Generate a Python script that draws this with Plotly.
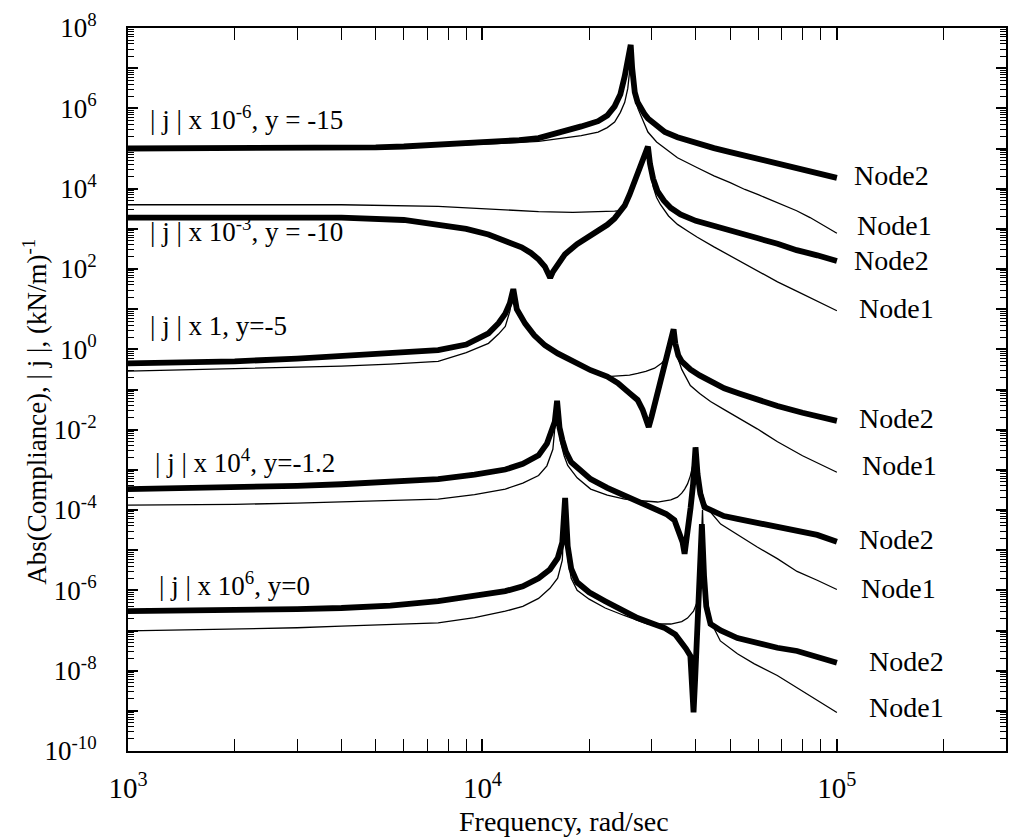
import math
import plotly.graph_objects as go

# ---- frequency response data (frequency in rad/sec, |compliance| scaled per group) ----
# Group 1: |j| x 1e-6, y = -15
g1_node2_f = [1000, 2000, 3000, 4000, 5000, 6000, 7500, 9000, 11000, 12700, 14400, 15700, 17100,
              19000, 21200, 22500, 23600, 24500, 25200, 25700, 26000, 26200, 26450, 26700, 26900,
              27400, 28000, 28700, 29300, 31000, 32700, 35500, 38000, 40400, 45000, 50000, 60000,
              68000, 77000, 88000, 100000]
g1_node2_v = [1.0e5, 1.0e5, 1.01e5, 1.02e5, 1.07e5, 1.12e5, 1.23e5, 1.32e5, 1.45e5, 1.62e5, 1.82e5,
              2.19e5, 2.82e5, 3.55e5, 4.79e5, 6.61e5, 1.12e6, 2.24e6, 6.31e6, 1.41e7, 2.51e7, 3.8e7,
              1.0e7, 4.47e6, 2.51e6, 1.41e6, 9.55e5, 7.08e5, 5.62e5, 3.55e5, 2.57e5, 1.91e5, 1.58e5,
              1.35e5, 1.02e5, 8.13e4, 5.5e4, 4.37e4, 3.31e4, 2.51e4, 1.86e4]
g1_node1_f = [1000, 2000, 4000, 7500, 11000, 14400, 17100, 19000, 21200, 22500, 23600, 24500,
              25200, 25700, 26000, 26200, 26500, 26900, 27500, 28300, 29300, 31000, 32700, 35500,
              40400, 45000, 50000, 55000, 60000, 68000, 77000, 84000, 100000]
g1_node1_v = [9.77e4, 9.77e4, 1.0e5, 1.17e5, 1.32e5, 1.51e5, 1.82e5, 2.09e5, 2.57e5, 3.31e5, 4.57e5,
              7.94e5, 1.41e6, 3.09e6, 7.94e6, 2.82e7, 3.98e6, 1.78e6, 9.55e5, 5.01e5, 2.57e5, 1.45e5,
              1.02e5, 5.89e4, 3.31e4, 2.09e4, 1.41e4, 9.55e3, 7.08e3, 4.47e3, 2.82e3, 1.91e3, 7.76e2]

# Group 2: |j| x 1e-3, y = -10
g2_node2_f = [1000, 2000, 4000, 6000, 7500, 9000, 10400, 11500, 12900, 13700, 14400, 15000, 15300,
              15530, 15800, 16300, 17100, 18500, 20000, 21200, 22500, 23600, 24500, 25200, 26000,
              26800, 27600, 28300, 28900, 29300, 29700, 30300, 31200, 32500, 34000, 36200, 40000,
              45100, 52000, 59600, 68000, 77000, 88000, 100000]
g2_node2_v = [1.91e3, 1.91e3, 1.91e3, 1.66e3, 1.29e3, 1.0e3, 7.24e2, 5.25e2, 3.47e2, 2.51e2, 1.74e2,
              1.15e2, 8.51e1, 6.03e1, 8.51e1, 1.26e2, 2.34e2, 4.17e2, 6.61e2, 8.71e2, 1.26e3, 1.82e3,
              2.63e3, 3.8e3, 7.08e3, 1.41e4, 2.82e4, 5.25e4, 8.91e4, 1.12e5, 4.17e4, 1.78e4, 8.51e3,
              5.01e3, 3.31e3, 2.29e3, 1.58e3, 1.15e3, 8.13e2, 5.89e2, 4.27e2, 2.95e2, 2.19e2, 1.58e2]
g2_node1_f = [1000, 2000, 4000, 7500, 11000, 14400, 18000, 22000, 23600, 24500, 25200, 26000,
              26800, 27600, 28300, 28900, 29300, 29700, 30300, 31000, 31800, 33500, 35500, 38000,
              40400, 45000, 50000, 55000, 60000, 68000, 77000, 88000, 100000]
g2_node1_v = [3.98e3, 3.98e3, 3.98e3, 3.63e3, 3.02e3, 2.69e3, 2.57e3, 2.63e3, 2.75e3, 2.82e3, 3.8e3,
              7.08e3, 1.41e4, 2.82e4, 5.25e4, 8.91e4, 1.12e5, 3.16e4, 1.12e4, 6.03e3, 3.98e3, 2.09e3,
              1.29e3, 8.71e2, 6.17e2, 3.55e2, 2.14e2, 1.32e2, 8.51e1, 4.79e1, 2.82e1, 1.58e1, 9.12]

# Group 3: |j| x 1, y = -5
g3_node2_f = [1000, 2000, 3000, 4000, 5500, 7500, 9000, 10400, 11100, 11600, 11950, 12220, 12500,
              12900, 13200, 14000, 15000, 16300, 18000, 20200, 22500, 24100, 26000, 27400, 28300,
              28900, 29450, 30000, 30600, 31200, 32000, 32700, 33300, 33800, 34300, 34620, 35000,
              35700, 36500, 37200, 38600, 41000, 44000, 48100, 53000, 59600, 68000, 80000, 100000]
g3_node2_v = [0.447, 0.501, 0.589, 0.676, 0.794, 0.955, 1.32, 2.51, 4.47, 7.76, 14.1, 31.6, 10.0,
              6.03, 4.37, 2.24, 1.26, 0.794, 0.501, 0.302, 0.209, 0.145, 0.0813, 0.055, 0.0316,
              0.020, 0.0117, 0.0209, 0.0417, 0.0794, 0.178, 0.355, 0.661, 1.05, 1.78, 3.16, 1.41,
              0.708, 0.501, 0.417, 0.316, 0.224, 0.158, 0.107, 0.0794, 0.055, 0.0389, 0.0263, 0.0166]
g3_node1_f = [1000, 2000, 3000, 4000, 5500, 7500, 9000, 10400, 11100, 11600, 11950, 12220, 12500,
              12900, 13200, 14000, 15000, 16300, 18000, 20200, 22500, 24100, 26000, 27400, 28900,
              30600, 32000, 32700, 33300, 33800, 34300, 34620, 35000, 35700, 36500, 37200, 38600,
              41000, 44000, 48100, 53000, 59600, 68000, 80000, 100000]
g3_node1_v = [0.288, 0.324, 0.347, 0.38, 0.427, 0.501, 0.832, 1.41, 2.40, 3.72, 8.91, 28.2, 10.0,
              6.03, 4.37, 2.24, 1.26, 0.794, 0.501, 0.302, 0.209, 0.219, 0.229, 0.251, 0.282, 0.339,
              0.447, 0.562, 0.794, 1.10, 1.78, 3.02, 1.41, 0.562, 0.316, 0.224, 0.126, 0.0794,
              0.0501, 0.0316, 0.0191, 0.0105, 0.0050, 0.00224, 8.7e-4]

# Group 4: |j| x 1e4, y = -1.2
g4_node2_f = [1000, 2000, 3000, 4000, 5500, 7500, 9500, 11600, 13000, 14400, 15200, 15600, 16000,
              16240, 16500, 16800, 17200, 17800, 19000, 20200, 22500, 25200, 28000, 31200, 33000,
              34800, 36200, 36700, 37180, 37600, 37900, 38300, 38650, 39300, 39920, 40440, 41200,
              42300, 45000, 48000, 52400, 59600, 70000, 77200, 88000, 100000]
g4_node2_v = [3.31e-4, 3.63e-4, 3.98e-4, 4.37e-4, 5.01e-4, 5.89e-4, 7.59e-4, 1.02e-3, 1.41e-3,
              2.29e-3, 4.47e-3, 8.51e-3, 1.58e-2, 5.25e-2, 1.12e-2, 5.62e-3, 2.82e-3, 1.55e-3,
              8.91e-4, 5.89e-4, 3.55e-4, 2.34e-4, 1.58e-4, 1.05e-4, 7.94e-5, 5.62e-5, 2.4e-5,
              1.58e-5, 8.13e-6, 1.58e-5, 2.82e-5, 5.62e-5, 1.12e-4, 4.47e-4, 3.63e-3, 7.94e-4,
              2.51e-4, 1.17e-4, 8.91e-5, 7.08e-5, 6.03e-5, 4.79e-5, 3.55e-5, 3.16e-5, 2.4e-5, 1.62e-5]
g4_node1_f = [1000, 2000, 3000, 4000, 5500, 7500, 9500, 11600, 13000, 14400, 15200, 15800, 16240,
              16600, 17000, 17400, 18500, 20200, 22500, 25200, 28000, 31200, 34000, 35500, 36500,
              37200, 37900, 38600, 39300, 39920, 40500, 41200, 42300, 44000, 47000, 52400, 59600,
              67900, 77200, 88000, 100000]
g4_node1_v = [1.32e-4, 1.38e-4, 1.48e-4, 1.58e-4, 1.70e-4, 1.86e-4, 2.4e-4, 3.31e-4, 4.68e-4,
              7.24e-4, 1.26e-3, 3.24e-3, 4.47e-2, 5.01e-3, 2.24e-3, 1.29e-3, 6.31e-4, 3.31e-4,
              2.34e-4, 1.86e-4, 1.70e-4, 1.58e-4, 1.78e-4, 2.09e-4, 2.63e-4, 3.31e-4, 4.47e-4,
              7.08e-4, 1.41e-3, 3.63e-3, 1.12e-3, 3.98e-4, 1.58e-4, 8.91e-5, 4.47e-5, 2.4e-5,
              1.2e-5, 6.17e-6, 2.95e-6, 1.78e-6, 1.05e-6]

# Group 5: |j| x 1e6, y = 0
g5_node2_f = [1000, 2000, 3000, 4000, 5500, 7500, 9500, 11600, 13000, 14400, 15500, 16300, 16800,
              17110, 17400, 17800, 18500, 20000, 22200, 25000, 27400, 30000, 32700, 35000, 36200,
              37500, 38600, 39100, 39410, 39800, 40300, 40800, 41300, 41600, 42200, 42800, 43990,
              47000, 52400, 60000, 67900, 77200, 88000, 100000]
g5_node2_v = [3.02e-7, 3.16e-7, 3.39e-7, 3.63e-7, 4.17e-7, 5.37e-7, 7.24e-7, 9.55e-7, 1.26e-6,
              2.0e-6, 3.31e-6, 6.31e-6, 1.58e-5, 2.0e-4, 1.26e-5, 3.47e-6, 1.58e-6, 8.91e-7, 5.37e-7,
              3.16e-7, 2.04e-7, 1.51e-7, 1.15e-7, 7.94e-8, 5.5e-8, 3.55e-8, 2.34e-8, 5.62e-9,
              9.12e-10, 5.62e-9, 1.02e-7, 1.66e-6, 1.91e-5, 4.47e-5, 2.24e-6, 3.98e-7, 1.45e-7,
              1.0e-7, 6.46e-8, 4.68e-8, 3.72e-8, 3.09e-8, 2.24e-8, 1.58e-8]
g5_node1_f = [1000, 2000, 3000, 4000, 5500, 7500, 9500, 11600, 13000, 14400, 15500, 16300, 16800,
              17110, 17400, 17800, 18500, 20000, 22200, 25000, 29300, 34000, 36500, 37900, 39400,
              40440, 41150, 41500, 41770, 42100, 42600, 43990, 46900, 52400, 58500, 67900, 77200,
              88000, 100000]
g5_node1_v = [9.77e-8, 1.07e-7, 1.17e-7, 1.29e-7, 1.41e-7, 1.55e-7, 2.09e-7, 3.02e-7, 3.98e-7,
              6.31e-7, 1.12e-6, 2.0e-6, 5.62e-6, 1.78e-4, 6.31e-6, 2.0e-6, 1.0e-6, 6.03e-7, 3.63e-7,
              2.4e-7, 1.45e-7, 1.45e-7, 1.66e-7, 2.04e-7, 3.02e-7, 5.37e-7, 2.51e-6, 1.26e-5, 1.0e-4,
              1.0e-5, 1.26e-6, 1.7e-7, 5.5e-8, 2.63e-8, 1.48e-8, 7.59e-9, 3.8e-9, 1.91e-9, 9.12e-10]

group_labels = ["| j | x 10<sup>-6</sup>, y = -15",
                "| j | x 10<sup>-3</sup>, y = -10",
                "| j | x 1, y=-5",
                "| j | x 10<sup>4</sup>, y=-1.2",
                "| j | x 10<sup>6</sup>, y=0"]
x_tick_exps = [3, 4, 5]
y_label_exps = list(range(-10, 9, 2))
y_odd_exps = list(range(-9, 8, 2))

FONT = "Liberation Serif"
THICK, THIN = 5.8, 1.3

series = [
    ("Node2", g1_node2_f, g1_node2_v, THICK), ("Node1", g1_node1_f, g1_node1_v, THIN),
    ("Node2", g2_node2_f, g2_node2_v, THICK), ("Node1", g2_node1_f, g2_node1_v, THIN),
    ("Node2", g3_node2_f, g3_node2_v, THICK), ("Node1", g3_node1_f, g3_node1_v, THIN),
    ("Node2", g4_node2_f, g4_node2_v, THICK), ("Node1", g4_node1_f, g4_node1_v, THIN),
    ("Node2", g5_node2_f, g5_node2_v, THICK), ("Node1", g5_node1_f, g5_node1_v, THIN),
]

fig = go.Figure()
for name, f, v, w in series:
    fig.add_trace(go.Scatter(x=f, y=v, mode="lines", name=name, showlegend=False,
                             line=dict(color="black", width=w), hoverinfo="skip"))

# invisible helper trace so the second y axis (odd-decade major ticks) is rendered
fig.add_trace(go.Scatter(x=[1000], y=[1.0], yaxis="y2", mode="markers",
                         marker=dict(opacity=0), showlegend=False, hoverinfo="skip"))

# curve-end labels: (text, log10 x, log10 y)
end_labels = [
    ("Node2", 5.042, 4.32), ("Node1", 5.051, 3.09),
    ("Node2", 5.042, 2.20), ("Node1", 5.056, 1.01),
    ("Node2", 5.056, -1.73), ("Node1", 5.065, -2.89),
    ("Node2", 5.056, -4.74), ("Node1", 5.062, -5.95),
    ("Node2", 5.084, -7.78), ("Node1", 5.084, -8.91),
]
annotations = []
for txt, lx, ly in end_labels:
    annotations.append(dict(text=txt, x=lx, y=ly, xref="x", yref="y", xanchor="left",
                            yanchor="middle", showarrow=False,
                            font=dict(family=FONT, size=28, color="black")))

# group captions: (log10 x, log10 y)
caption_pos = [(3.056, 5.75), (3.056, 2.96), (3.056, 0.57), (3.070, -2.77), (3.081, -5.83)]
for txt, (lx, ly) in zip(group_labels, caption_pos):
    annotations.append(dict(text=txt, x=lx, y=ly, xref="x", yref="y", xanchor="left",
                            yanchor="middle", showarrow=False,
                            font=dict(family=FONT, size=27, color="black")))

annotations.append(dict(text="Frequency, rad/sec", x=0.4966, y=-0.097, xref="paper", yref="paper",
                        xanchor="center", yanchor="middle", showarrow=False,
                        font=dict(family=FONT, size=28, color="black")))
annotations.append(dict(text="Abs(Compliance), | j |, (kN/m)<sup>-1</sup>", x=-0.106, y=0.469,
                        xref="paper", yref="paper", xanchor="center", yanchor="middle",
                        textangle=-90, showarrow=False,
                        font=dict(family=FONT, size=27, color="black")))

x_minor = [m * 10 ** e for e in (3, 4) for m in range(2, 10)] + [2e5, 3e5]
y_minor = [m * 10.0 ** e for e in range(-10, 8) for m in range(2, 10)]

fig.update_layout(
    width=1017, height=839,
    margin=dict(l=128, r=9, t=22, b=88),
    paper_bgcolor="white", plot_bgcolor="white",
    font=dict(family=FONT, color="black"),
    annotations=annotations,
    xaxis=dict(type="log", range=[3, math.log10(3e5)], showgrid=False, zeroline=False,
               showline=True, linecolor="black", linewidth=2, mirror="allticks",
               ticks="inside", ticklen=12, tickwidth=1.5, tickcolor="black",
               tickmode="array", tickvals=[10 ** e for e in x_tick_exps],
               ticktext=[f"10<sup>{e}</sup>" for e in x_tick_exps],
               tickfont=dict(family=FONT, size=29, color="black"), ticklabelstandoff=10,
               minor=dict(ticks="inside", ticklen=7, tickwidth=1.2, tickcolor="black",
                          tickmode="array", tickvals=x_minor, showgrid=False)),
    yaxis=dict(type="log", range=[-10, 8], showgrid=False, zeroline=False,
               showline=True, linecolor="black", linewidth=2, mirror="allticks",
               ticks="inside", ticklen=10, tickwidth=1.5, tickcolor="black",
               tickmode="array", tickvals=[10.0 ** e for e in y_label_exps],
               ticktext=[f"10<sup>{e}</sup>" for e in y_label_exps],
               tickfont=dict(family=FONT, size=27, color="black"), ticklabelstandoff=24,
               minor=dict(ticks="inside", ticklen=6, tickwidth=1.2, tickcolor="black",
                          tickmode="array", tickvals=y_minor, showgrid=False)),
    yaxis2=dict(type="log", range=[-10, 8], overlaying="y", side="left", showgrid=False,
                zeroline=False, showline=False, mirror="allticks", ticks="inside",
                ticklen=10, tickwidth=1.5, tickcolor="black", showticklabels=False,
                tickmode="array", tickvals=[10.0 ** e for e in y_odd_exps]),
)

fig.write_html("out.html")
